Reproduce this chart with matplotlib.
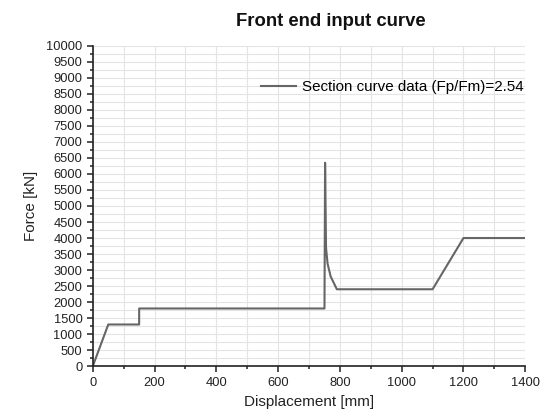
import numpy as np
import matplotlib.pyplot as plt
from matplotlib.ticker import MultipleLocator

plt.rcParams['font.family'] = ['Liberation Sans', 'DejaVu Sans']

# section curve data
disp = [0, 50, 150, 150, 750, 752, 755, 760, 770, 790, 1100, 1200, 1400]
force = [0, 1300, 1300, 1800, 1800, 6350, 3700, 3200, 2800, 2400, 2400, 4000, 4000]
label = "Section curve data (Fp/Fm)=2.54"

fig = plt.figure(figsize=(5.46, 4.17), dpi=100)
ax = fig.add_axes([0.170, 0.122, 0.792, 0.768])

ax.plot(disp, force, color="#666666", lw=1.5, label=label)

ax.set_xlim(0, 1400)
ax.set_ylim(0, 10000)
ax.xaxis.set_major_locator(MultipleLocator(200))
ax.xaxis.set_minor_locator(MultipleLocator(100))
ax.yaxis.set_major_locator(MultipleLocator(500))
ax.yaxis.set_minor_locator(MultipleLocator(250))
ax.grid(which="both", color="#e4e4e4", lw=0.8)
ax.set_axisbelow(True)

for s in ["top", "right"]:
    ax.spines[s].set_visible(False)
for s in ["left", "bottom"]:
    ax.spines[s].set_linewidth(1.2)
    ax.spines[s].set_color("#222222")
ax.tick_params(which="major", direction="out", length=4, width=1.1, labelsize=9.3, colors="#222222")
ax.tick_params(which="minor", direction="out", length=2.5, width=1.1, colors="#222222")

ax.set_xlabel("Displacement [mm]", fontsize=11, color="#222222", labelpad=5)
ax.set_ylabel("Force [kN]", fontsize=11, color="#222222", labelpad=6)
fig.text(0.605, 0.948, "Front end input curve", ha="center", va="center",
         fontsize=13.3, fontweight="bold", color="#111111")

ax.legend(loc="upper right", bbox_to_anchor=(1.027, 0.935), frameon=False, fontsize=10.9,
          handlelength=2.3, handletextpad=0.35)

fig.savefig("out.png", dpi=100)
